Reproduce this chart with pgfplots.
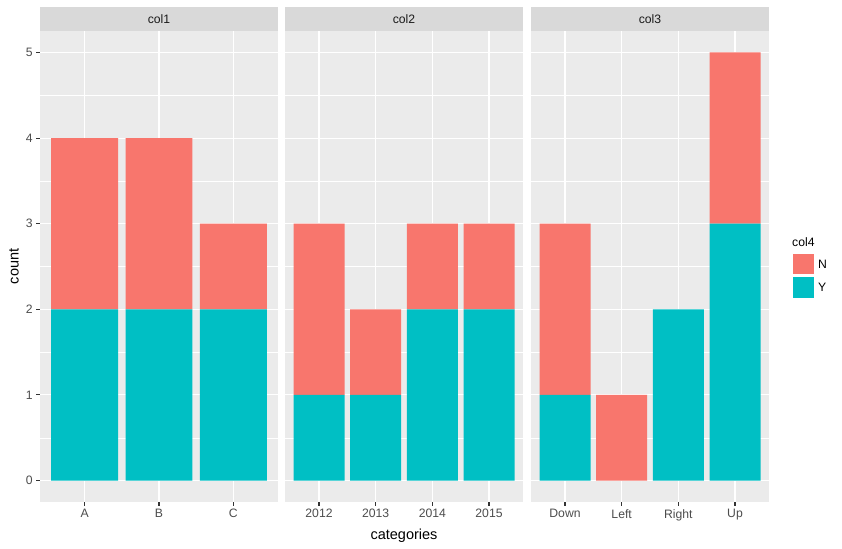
\documentclass[border=0pt]{standalone}
\usepackage{fontspec}
\setmainfont{Liberation Sans}
\usepackage{pgfplots}
\pgfplotsset{compat=1.18}
\usetikzlibrary{calc}

\definecolor{panelbg}{HTML}{EBEBEB}
\definecolor{stripbg}{HTML}{D9D9D9}
\definecolor{colN}{HTML}{F8766D}
\definecolor{colY}{HTML}{00BFC4}
\definecolor{ticktext}{HTML}{4D4D4D}
\definecolor{tickline}{HTML}{333333}
\definecolor{striptext}{HTML}{1A1A1A}

\newcommand{\smallfont}{\fontsize{12.2bp}{14bp}\selectfont}
\newcommand{\titlefont}{\fontsize{14.5bp}{17bp}\selectfont}

\pgfplotsset{
  facet/.style={
    scale only axis, width=238bp, height=471bp,
    anchor=south west,
    ybar stacked, bar width=0.9,
    ymin=-0.25, ymax=5.25,
    ytick={0,1,2,3,4,5},
    xmajorgrids,
    major grid style={white, line width=1.07bp},
    axis line style={draw=none},
    tick align=outside, xtick pos=bottom, ytick pos=left,
    major tick length=3.7bp,
    every tick/.style={tickline, line width=1.07bp},
    xtick=data, xmin=0.4,
    ticklabel style={font=\smallfont, text=ticktext},
    /pgf/number format/assume math mode=true,
  },
  noy/.style={yticklabels={}, every y tick/.style={draw=none}},
  barY/.style={fill=colY, draw=none},
  barN/.style={fill=colN, draw=none},
}

\begin{document}
\begin{tikzpicture}
\path[use as bounding box, fill=white] (0,0) rectangle (842bp,549bp);

% panel backgrounds with horizontal grid (ymin=-0.25, ymax=5.25 over 471bp)
\begin{scope}[x=1bp, y=1bp]
\foreach \px in {40,285,531} {
  \fill[panelbg] (\px,47) rectangle ++(238,471);
  \foreach \v in {0.5,1.5,2.5,3.5,4.5}
    \draw[white, line width=0.53bp] (\px,{47+(\v+0.25)*85.6364}) -- ++(238,0);
  \foreach \v in {0,1,2,3,4,5}
    \draw[white, line width=1.07bp] (\px,{47+(\v+0.25)*85.6364}) -- ++(238,0);
}
\end{scope}

% col1
\begin{axis}[facet, name=p1, at={(40bp,47bp)}, xmax=3.6,
  xticklabels={A,B,C}]
\addplot[barY] coordinates {(1,2) (2,2) (3,2)};
\addplot[barN] coordinates {(1,2) (2,2) (3,1)};
\end{axis}

% col2
\begin{axis}[facet, noy, name=p2, at={(285bp,47bp)}, xmax=4.6,
  xticklabels={2012,2013,2014,2015}]
\addplot[barY] coordinates {(1,1) (2,1) (3,2) (4,2)};
\addplot[barN] coordinates {(1,2) (2,1) (3,1) (4,1)};
\end{axis}

% col3
\begin{axis}[facet, noy, name=p3, at={(531bp,47bp)}, xmax=4.6,
  xticklabels={Down,Left,Right,Up}]
\addplot[barY] coordinates {(1,1) (2,0) (3,2) (4,3)};
\addplot[barN] coordinates {(1,2) (2,1) (3,0) (4,2)};
\end{axis}

% facet strips
\foreach \p/\lab in {p1/col1, p2/col2, p3/col3} {
  \fill[stripbg] (\p.north west) rectangle ([yshift=24bp]\p.north east);
  \node[font=\smallfont, text=striptext] at ([yshift=12bp]$(\p.north west)!0.5!(\p.north east)$) {\lab};
}

% axis titles
\node[font=\titlefont, rotate=90] at (14bp,282.5bp) {count};
\node[font=\titlefont, anchor=base] at (404bp,10bp) {categories};

% legend
\node[font=\smallfont, anchor=base west, inner sep=0pt] at (792bp,302bp) {col4};
\fill[colN] (793bp,275bp) rectangle (814bp,295bp);
\fill[colY] (793bp,251bp) rectangle (814bp,272bp);
\node[font=\smallfont, anchor=west, inner sep=0pt] at (818bp,285bp) {N};
\node[font=\smallfont, anchor=west, inner sep=0pt] at (818bp,262bp) {Y};
\end{tikzpicture}
\end{document}
